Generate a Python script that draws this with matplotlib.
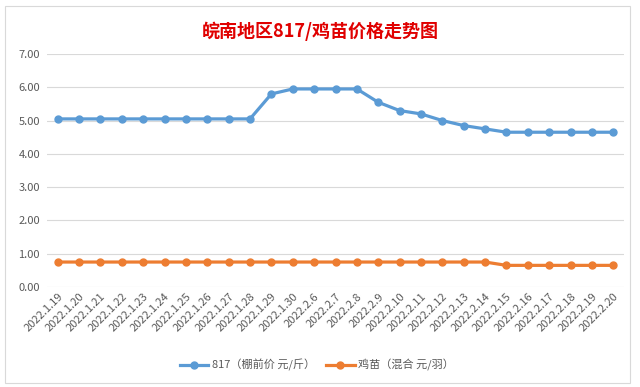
import matplotlib
matplotlib.use("Agg")
import matplotlib.pyplot as plt
from matplotlib.patches import Rectangle

plt.rcParams['font.family'] = ['Noto Sans CJK SC', 'DejaVu Sans']

dates = ["2022.1.19", "2022.1.20", "2022.1.21", "2022.1.22", "2022.1.23", "2022.1.24",
         "2022.1.25", "2022.1.26", "2022.1.27", "2022.1.28", "2022.1.29", "2022.1.30",
         "2022.2.6", "2022.2.7", "2022.2.8", "2022.2.9", "2022.2.10", "2022.2.11",
         "2022.2.12", "2022.2.13", "2022.2.14", "2022.2.15", "2022.2.16", "2022.2.17",
         "2022.2.18", "2022.2.19", "2022.2.20"]
price_817 = [5.05, 5.05, 5.05, 5.05, 5.05, 5.05, 5.05, 5.05, 5.05, 5.05, 5.8, 5.95,
             5.95, 5.95, 5.95, 5.55, 5.3, 5.2, 5.0, 4.85, 4.75, 4.65, 4.65, 4.65,
             4.65, 4.65, 4.65]
chick = [0.75, 0.75, 0.75, 0.75, 0.75, 0.75, 0.75, 0.75, 0.75, 0.75, 0.75, 0.75,
         0.75, 0.75, 0.75, 0.75, 0.75, 0.75, 0.75, 0.75, 0.75, 0.65, 0.65, 0.65,
         0.65, 0.65, 0.65]
yticks = [0, 1, 2, 3, 4, 5, 6, 7]
label_817 = "817（棚前价 元/斤）"
label_chick = "鸡苗（混合 元/羽）"
title = "皖南地区817/鸡苗价格走势图"

fig = plt.figure(figsize=(6.4, 3.87), dpi=100)
fig.patches.append(Rectangle((0.008, 0.01), 0.976, 0.975, transform=fig.transFigure,
                             fill=False, edgecolor='#d9d9d9', linewidth=0.8))
ax = fig.add_axes([47/640, 1-287/387, (624-47)/640, (287-54)/387])

x = list(range(len(dates)))
ax.plot(x, price_817, color='#5B9BD5', linewidth=2.3, marker='o', markersize=5,
        label=label_817, zorder=3)
ax.plot(x, chick, color='#ED7D31', linewidth=2.3, marker='o', markersize=5,
        label=label_chick, zorder=3)

ax.set_xlim(-0.5, len(dates) - 0.5)
ax.set_ylim(0, 7)
ax.set_yticks(yticks)
ax.set_yticklabels([f"{v:.2f}" for v in yticks], fontsize=8, color='#595959')
ax.yaxis.grid(True, color='#d9d9d9', linewidth=0.8)
ax.set_axisbelow(True)
ax.set_xticks(x)
ax.set_xticklabels(dates, rotation=45, ha='right', rotation_mode='anchor',
                   fontsize=8, color='#595959')
ax.tick_params(axis='both', length=0, pad=5)
ax.tick_params(axis='x', pad=3)
for s in ax.spines.values():
    s.set_visible(False)

fig.text(0.5, 1-31/387, title, ha='center', va='center', fontsize=13,
         fontweight='bold', color='#E00000')

fig.legend(loc='center', bbox_to_anchor=(0.495, 1-365/387), ncol=2, frameon=False,
           fontsize=8, labelcolor='#595959', handlelength=2.6, columnspacing=1.0,
           handletextpad=0.3)

fig.savefig("out.png", dpi=100)
